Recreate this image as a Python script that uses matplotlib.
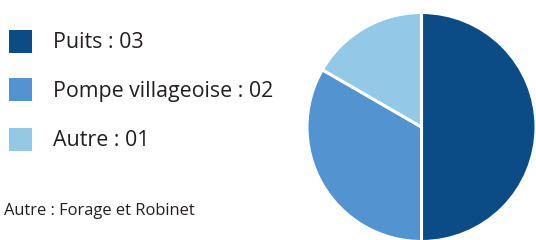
import matplotlib
matplotlib.use("Agg")
import matplotlib.pyplot as plt
from matplotlib.patches import Rectangle

categories = ["Puits", "Pompe villageoise", "Autre"]
values = [3, 2, 1]
labels = ["Puits : 03", "Pompe villageoise : 02", "Autre : 01"]
colors = ["#0b4c86", "#5393cf", "#93c8e6"]
note = "Autre : Forage et Robinet"

plt.rcParams['font.family'] = ['Open Sans', 'DejaVu Sans']
W, H = 536, 240
fig = plt.figure(figsize=(W / 100, H / 100), dpi=100)
ax = fig.add_axes([0, 0, 1, 1])

ax.pie(values, colors=colors, startangle=90, counterclock=False,
       center=(421.5, H - 127), radius=114.5,
       wedgeprops=dict(edgecolor='white', linewidth=2.2), frame=True)
ax.set_xlim(0, W)
ax.set_ylim(0, H)
ax.set_aspect('equal')
ax.axis('off')

text_color = "#231f20"
ys = [41.5, 89.5, 139.5]
for lab, col, y in zip(labels, colors, ys):
    ax.add_patch(Rectangle((9, H - y - 11.5), 23, 23, facecolor=col, edgecolor='none'))
    ax.text(53, H - y - 7, lab, fontsize=15.4, color=text_color, va='baseline', ha='left')

ax.text(4, H - 215, note, fontsize=11.9, color=text_color, va='baseline', ha='left')

fig.savefig("out.png", dpi=100)
